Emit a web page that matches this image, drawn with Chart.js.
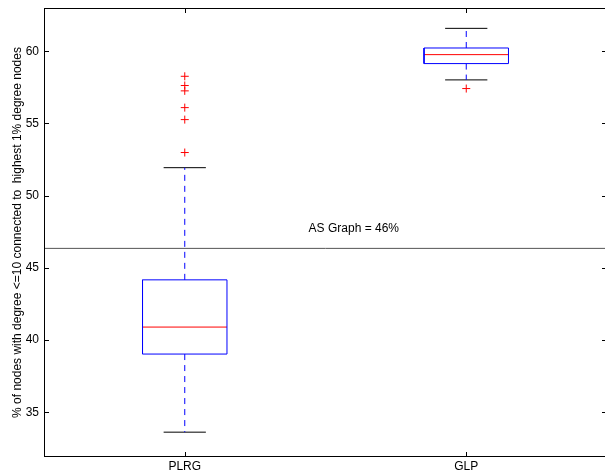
<!DOCTYPE html>
<html>
<head>
<meta charset="utf-8">
<script src="https://cdn.jsdelivr.net/npm/chart.js@4"></script>
<style>
  html, body { margin: 0; padding: 0; background: #fff; overflow: hidden; }
  #chart { display: block; }
</style>
</head>
<body>
<canvas id="chart" width="612" height="470"></canvas>
<script>
// valeurs
const groups = ['PLRG', 'GLP'];
const q1 = [39.03, 59.15];
const medians = [40.9, 59.77];
const q3 = [44.17, 60.23];
const whiskerLo = [33.62, 58.02];
const whiskerHi = [51.94, 61.59];
const outliersPLRG = [58.27, 57.63, 57.26, 56.1, 55.27, 52.99];
const outliersGLP = [57.42];
const asGraph = 46.35;
const asLabel = 'AS Graph = 46%';
const yTicks = [35, 40, 45, 50, 55, 60];

const BOX_HALF = 0.15, CAP_HALF = 0.075;
const BLUE = '#0000ff', RED = '#ff0000';

function seg(x1, y1, x2, y2) { return [{ x: x1, y: y1 }, { x: x2, y: y2 }]; }

function lineSet(data, color, dash) {
  return { data, showLine: true, borderColor: color, borderWidth: 1, borderDash: dash || [], pointRadius: 0, fill: false };
}

const datasets = [];
groups.forEach((g, i) => {
  const c = i + 1;
  // boite
  datasets.push(lineSet([
    { x: c - BOX_HALF, y: q1[i] }, { x: c + BOX_HALF, y: q1[i] },
    { x: c + BOX_HALF, y: q3[i] }, { x: c - BOX_HALF, y: q3[i] },
    { x: c - BOX_HALF, y: q1[i] }
  ], BLUE));
  datasets.push(lineSet(seg(c - BOX_HALF, medians[i], c + BOX_HALF, medians[i]), RED));
  // moustaches
  datasets.push(lineSet(seg(c, q3[i], c, whiskerHi[i]), BLUE, [6, 5]));
  datasets.push(lineSet(seg(c, q1[i], c, whiskerLo[i]), BLUE, [6, 5]));
  datasets.push(lineSet(seg(c - CAP_HALF, whiskerHi[i], c + CAP_HALF, whiskerHi[i]), '#000'));
  datasets.push(lineSet(seg(c - CAP_HALF, whiskerLo[i], c + CAP_HALF, whiskerLo[i]), '#000'));
});
[outliersPLRG, outliersGLP].forEach((arr, i) => {
  datasets.push({
    data: arr.map(v => ({ x: i + 1, y: v })),
    pointStyle: 'cross', pointRadius: 4, borderColor: RED, borderWidth: 1, showLine: false
  });
});
datasets.push(lineSet(seg(0.5, asGraph, 2.5, asGraph), '#555'));

const framePlugin = {
  id: 'frame',
  afterDatasetsDraw(chart) {
    const { ctx, chartArea: a, scales } = chart;
    ctx.save();
    ctx.strokeStyle = '#000';
    ctx.lineWidth = 1;
    ctx.strokeRect(a.left + 0.5, a.top + 0.5, a.right - a.left - 1, a.bottom - a.top - 1);
    ctx.beginPath();
    yTicks.forEach(v => {
      const y = Math.round(scales.y.getPixelForValue(v)) + 0.5;
      ctx.moveTo(a.left, y); ctx.lineTo(a.left + 5, y);
      ctx.moveTo(a.right, y); ctx.lineTo(a.right - 5, y);
    });
    groups.forEach((g, i) => {
      const x = Math.round(scales.x.getPixelForValue(i + 1)) + 0.5;
      ctx.moveTo(x, a.bottom); ctx.lineTo(x, a.bottom - 5);
      ctx.moveTo(x, a.top); ctx.lineTo(x, a.top + 5);
    });
    ctx.stroke();
    // texte de la ligne AS
    ctx.fillStyle = '#000';
    ctx.font = '12px "Liberation Sans", Arial, sans-serif';
    ctx.textAlign = 'left';
    ctx.textBaseline = 'middle';
    ctx.fillText(asLabel, scales.x.getPixelForValue(1.44), scales.y.getPixelForValue(47.69));
    ctx.restore();
  }
};

Chart.defaults.font.family = '"Liberation Sans", Arial, sans-serif';
Chart.defaults.font.size = 12;
Chart.defaults.color = '#000';

new Chart(document.getElementById('chart'), {
  type: 'scatter',
  data: { datasets },
  options: {
    responsive: false,
    animation: false,
    layout: { padding: { top: 8, right: 4, left: 0, bottom: 0 } },
    plugins: { legend: { display: false }, tooltip: { enabled: false } },
    scales: {
      x: {
        type: 'linear', min: 0.5, max: 2.5,
        grid: { display: false, drawTicks: false },
        border: { display: false },
        afterBuildTicks: s => { s.ticks = groups.map((g, i) => ({ value: i + 1 })); },
        afterFit: s => { s.height = 13; s.paddingLeft = 0; s.paddingRight = 0; },
        ticks: { padding: 2, maxRotation: 0, callback: v => groups[v - 1] || '' }
      },
      y: {
        min: 31.9, max: 63,
        grid: { display: false, drawTicks: false },
        border: { display: false },
        afterBuildTicks: s => { s.ticks = yTicks.map(v => ({ value: v })); },
        afterFit: s => { s.width = 44; s.paddingTop = 0; s.paddingBottom = 0; },
        ticks: { padding: 5 },
        title: {
          display: true,
          text: '% of nodes with degree <=10 connected to  highest 1% degree nodes',
          padding: { top: 10, bottom: 0 }
        }
      }
    }
  },
  plugins: [framePlugin]
});
</script>
</body>
</html>
